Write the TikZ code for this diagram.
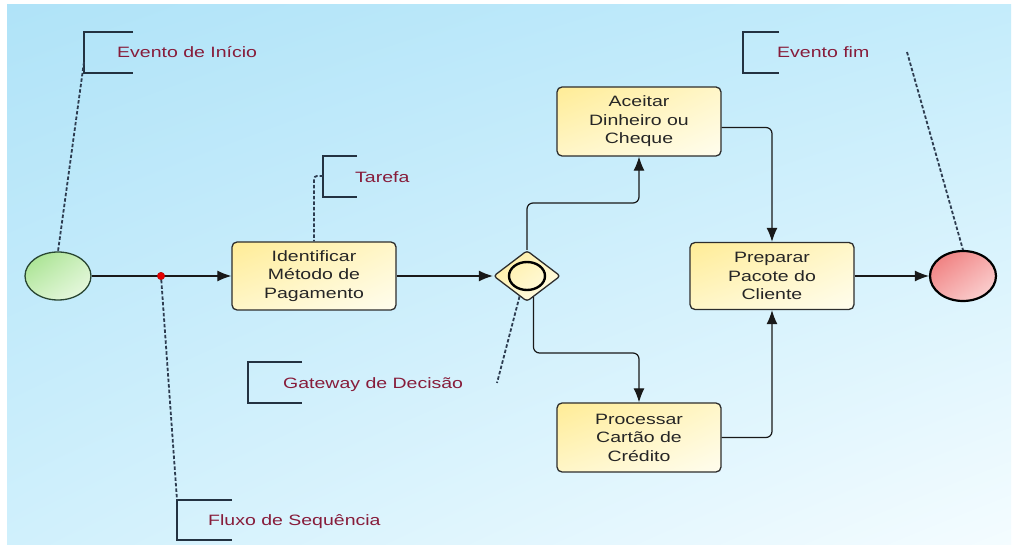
\documentclass[tikz,border=0pt]{standalone}
\usepackage{fontspec}
\setmainfont[FakeStretch=1.3]{Liberation Sans}
\usetikzlibrary{arrows.meta,shapes.geometric,shadings}
\definecolor{txtred}{RGB}{135,28,58}
\definecolor{boxline}{RGB}{45,45,45}
\definecolor{dashcol}{RGB}{45,60,80}
\definecolor{brk}{RGB}{35,50,65}
\definecolor{bgtl}{RGB}{176,227,248}
\definecolor{bgtr}{RGB}{196,236,251}
\definecolor{bgbl}{RGB}{208,240,252}
\definecolor{bgbr}{RGB}{244,252,255}
\definecolor{ylA}{RGB}{255,236,150}
\definecolor{ylB}{RGB}{255,246,200}
\definecolor{ylC}{RGB}{255,253,238}
\definecolor{grA}{RGB}{160,224,135}
\definecolor{grB}{RGB}{205,240,190}
\definecolor{grC}{RGB}{238,250,232}
\definecolor{rdA}{RGB}{238,115,115}
\definecolor{rdB}{RGB}{246,170,170}
\definecolor{rdC}{RGB}{252,220,220}
\begin{document}
\begin{tikzpicture}[x=1pt,y=-1pt,
  font=\fontsize{15}{18.5}\selectfont,
  task/.style={draw=boxline, line width=1.3pt, rounded corners=5pt,
    minimum width=164pt, minimum height=68pt, inner sep=0pt, align=center,
    text=black!85, upper left=ylA, upper right=ylB, lower left=ylB, lower right=ylC},
  startev/.style={ellipse, draw={rgb,255:red,40;green,70;blue,50}, line width=1.3pt,
    minimum width=66pt, minimum height=48pt, inner sep=0pt,
    upper left=grA, upper right=grB, lower left=grB, lower right=grC},
  endev/.style={ellipse, draw=black, line width=2.2pt,
    minimum width=66pt, minimum height=50pt, inner sep=0pt,
    upper left=rdA, upper right=rdB, lower left=rdB, lower right=rdC},
  gateway/.style={diamond, draw=boxline, line width=1.3pt, rounded corners=3pt,
    minimum width=67pt, minimum height=51pt, inner sep=0pt,
    upper left=ylA, upper right=ylB, lower left=ylB, lower right=ylC},
  gwinner/.style={ellipse, draw=black, line width=2.4pt, minimum width=36pt,
    minimum height=28pt, inner sep=0pt},
  reddot/.style={circle, fill=red!90!black, draw=red!70!black, minimum size=7.5pt, inner sep=0pt},
  flow/.style={draw=black!90, line width=1.2pt, -{Latex[length=14pt,width=11pt]}},
  assoc/.style={draw=dashcol, line width=1.8pt, dash pattern=on 3.5pt off 2pt},
  bracket/.style={draw=brk, line width=1.6pt},
  note/.style={text=txtred, inner sep=0pt, anchor=base west}
]
\useasboundingbox (0,0) rectangle (1018,545);
\fill[white] (0,0) rectangle (1018,545);
\shade[upper left=bgtl, upper right=bgtr, lower left=bgbl, lower right=bgbr]
  (7,5) rectangle (1011,545);

% main nodes
\node[startev] (start) at (58,276) {};
\node[task] (t1) at (314,276) {Identificar\\Método de\\Pagamento};
\node[gateway] (gw) at (527,276) {};
\node[gwinner] (gwi) at (gw.center) {};
\node[task, minimum height=69pt] (t2) at (639,121.5) {Aceitar\\Dinheiro ou\\Cheque};
\node[task, minimum height=69pt] (t3) at (639,437.5) {Processar\\Cartão de\\Crédito};
\node[task, minimum height=67pt] (t4) at (772,276) {Preparar\\Pacote do\\Cliente};
\node[endev] (end) at (963,276) {};

% waypoints
\coordinate (w1) at (580,203);
\coordinate (w2) at (580,353);

% sequence flows
\draw[flow] (start) -- (t1);
\draw[flow] (t1) -- (gw);
\draw[flow, rounded corners=6pt] (gw.north) |- (w1) -| (t2.south);
\draw[flow, rounded corners=6pt] ([yshift=-6pt]t2.east) -| (t4.north);
\draw[flow, rounded corners=6pt] (gw.-73) |- (w2) -| (t3.north);
\draw[flow, rounded corners=6pt] (t3.east) -| (t4.south);
\draw[flow] (t4) -- (end);

\node[reddot] (dot) at (161,276) {};

% annotations: brackets
\draw[bracket] (133,32) -- (84,32) -- (84,73) -- (133,73);
\node[note] (n1) at (117,57.5) {Evento de Início};
\coordinate (a1) at (84,62);

\draw[bracket] (357,156) -- (323,156) -- (323,197) -- (357,197);
\node[note] (n2) at (355,182.5) {Tarefa};
\coordinate (a2) at (323,176);

\draw[bracket] (302,362) -- (248,362) -- (248,403) -- (302,403);
\node[note] (n3) at (283,388.5) {Gateway de Decisão};
\coordinate (a3) at (497,383);

\draw[bracket] (232,500) -- (177,500) -- (177,540) -- (232,540);
\node[note] (n4) at (208,525.5) {Fluxo de Sequência};
\coordinate (a4) at (177,500);

\draw[bracket] (779,32) -- (743,32) -- (743,73) -- (779,73);
\node[note] (n5) at (777,57.5) {Evento fim};
\coordinate (a5) at (907,52);

% associations
\draw[assoc] (a1) -- (start.north);
\draw[assoc, rounded corners=3pt] (a2) -| (t1.north);
\draw[assoc] (gw.-110) -- (a3);
\draw[assoc] (dot) -- (a4);
\draw[assoc] (a5) -- (end.north);
\end{tikzpicture}
\end{document}
